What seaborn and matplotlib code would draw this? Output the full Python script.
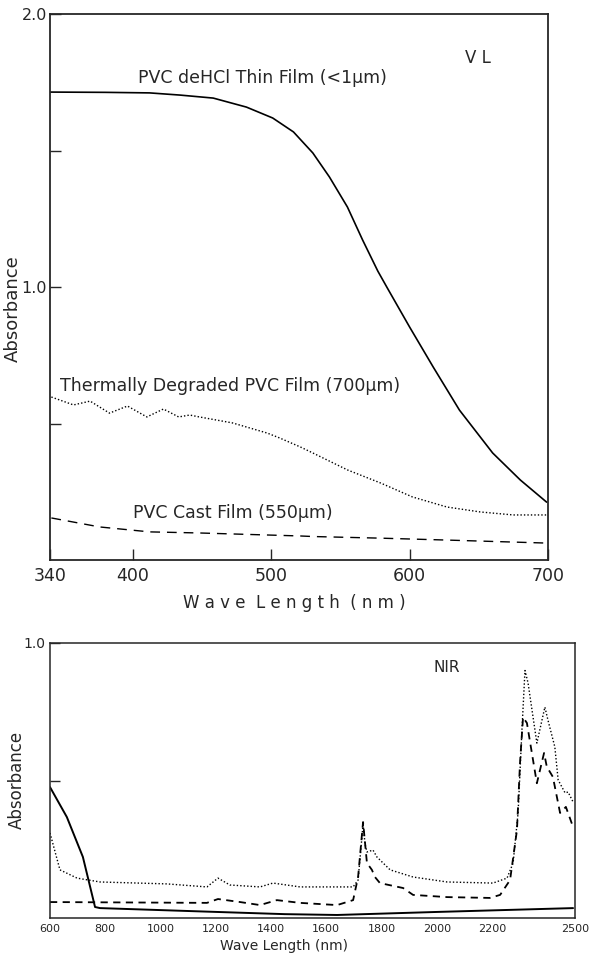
import matplotlib
matplotlib.use("Agg")
import matplotlib.pyplot as plt
import seaborn as sns

# ---------------- VL data ----------------
vl_thin_wl = [340, 380, 412, 434, 458, 482, 501, 516, 530, 542, 555, 566, 577, 584, 600, 617, 636, 660, 680, 699]
vl_thin_ab = [1.714, 1.713, 1.711, 1.703, 1.692, 1.659, 1.619, 1.568, 1.491, 1.403, 1.293, 1.172, 1.058,
              0.995, 0.853, 0.707, 0.549, 0.392, 0.293, 0.212]

vl_therm_wl = [341, 357, 369, 383, 396, 410, 422, 433, 441, 448, 472, 497, 506, 521, 530, 555, 579, 602, 627, 651, 675, 699]
vl_therm_ab = [0.597, 0.568, 0.582, 0.538, 0.564, 0.524, 0.553, 0.524, 0.531, 0.524, 0.502, 0.465, 0.447, 0.414, 0.392,
               0.330, 0.282, 0.231, 0.194, 0.176, 0.165, 0.165]

vl_cast_wl = [341, 376, 412, 448, 521, 530, 579, 627, 699]
vl_cast_ab = [0.154, 0.121, 0.103, 0.099, 0.088, 0.086, 0.080, 0.073, 0.062]

vl_xticks = [340, 400, 500, 600, 700]
vl_yticks = [0.5, 1.0, 1.5, 2.0]
vl_ylabels = ["", "1.0", "", "2.0"]

# ---------------- NIR data ----------------
nir_thin_wl = [600, 661, 719, 763, 781, 1143, 1450, 1639, 2000, 2493]
nir_thin_ab = [0.476, 0.367, 0.222, 0.040, 0.036, 0.024, 0.014, 0.011, 0.022, 0.036]

nir_therm_wl = [600, 636, 698, 781, 1023, 1168, 1208, 1251, 1360, 1407, 1505, 1697, 1715, 1729, 1733,
                1740, 1747, 1769, 1783, 1831, 1914, 2037, 2203, 2254, 2276, 2294, 2308, 2319, 2330,
                2362, 2391, 2402, 2427, 2439, 2464, 2475, 2493]
nir_therm_ab = [0.309, 0.175, 0.145, 0.131, 0.124, 0.113, 0.145, 0.120, 0.113, 0.127, 0.113, 0.113, 0.138, 0.295, 0.345,
                0.270, 0.240, 0.247, 0.222, 0.175, 0.149, 0.131, 0.127, 0.145, 0.200, 0.382, 0.684, 0.900, 0.855,
                0.636, 0.767, 0.720, 0.622, 0.502, 0.455, 0.458, 0.422]

nir_cast_wl = [600, 1168, 1208, 1288, 1360, 1421, 1505, 1639, 1697, 1715, 1733, 1747, 1765, 1776, 1794,
               1878, 1914, 2037, 2192, 2229, 2265, 2290, 2301, 2312, 2326, 2362, 2388, 2398, 2420, 2446, 2467, 2493]
nir_cast_ab = [0.058, 0.055, 0.069, 0.058, 0.047, 0.065, 0.055, 0.047, 0.065, 0.149, 0.349, 0.200, 0.175, 0.149, 0.127,
               0.109, 0.084, 0.076, 0.073, 0.084, 0.138, 0.320, 0.564, 0.730, 0.709, 0.490, 0.600, 0.550, 0.513, 0.382, 0.404, 0.331]

nir_xticks = [600, 800, 1000, 1200, 1400, 1600, 1800, 2000, 2200, 2500]
nir_yticks = [0.5, 1.0]
nir_ylabels = ["", "1.0"]

sns.set_style("ticks")
plt.rcParams['font.family'] = ['DejaVu Sans']

fig = plt.figure(figsize=(5.94, 9.55), dpi=100)
ax1 = fig.add_axes([50/594, (955-560)/955, 498/594, 546/955])
ax2 = fig.add_axes([50/594, (955-918)/955, 525/594, 275/955])

# ---- VL ----
sns.lineplot(x=vl_thin_wl, y=vl_thin_ab, ax=ax1, color="black", lw=1.2, linestyle="-", estimator=None, sort=False)
sns.lineplot(x=vl_therm_wl, y=vl_therm_ab, ax=ax1, color="black", lw=1.0, linestyle=(0, (1, 1.5)), estimator=None, sort=False)
sns.lineplot(x=vl_cast_wl, y=vl_cast_ab, ax=ax1, color="black", lw=1.0, linestyle=(0, (7, 5)), estimator=None, sort=False)
ax1.set_xlim(340, 700)
ax1.set_ylim(0, 2.0)
ax1.set_xticks(vl_xticks)
ax1.set_xticklabels([str(v) for v in vl_xticks], fontsize=12.5)
ax1.set_yticks(vl_yticks)
ax1.set_yticklabels(vl_ylabels, fontsize=11.5)
ax1.tick_params(axis="x", direction="in", length=8, width=1.0, pad=5)
ax1.tick_params(axis="y", direction="in", length=8, width=1.0, pad=2)
ax1.set_xlabel("W a v e  L e n g t h  ( n m )", fontsize=12)
ax1.xaxis.set_label_coords((294 - 50) / 498, -(594 - 560) / 546)
ax1.set_ylabel("Absorbance", fontsize=13)
ax1.yaxis.set_label_coords(-(50 - 22) / 498, (560 - 309) / 546)
for s in ax1.spines.values():
    s.set_linewidth(1.3)
    s.set_visible(True)
ax1.text(0.176, 0.883, "PVC deHCl Thin Film (<1μm)", fontsize=12.5, va="center", ha="left", transform=ax1.transAxes)
ax1.text(0.834, 0.919, "V L", fontsize=12, ha="left", va="center", transform=ax1.transAxes)
ax1.text(0.020, 0.319, "Thermally Degraded PVC Film (700μm)", fontsize=12.5, va="center", ha="left", transform=ax1.transAxes)
ax1.text(0.167, 0.086, "PVC Cast Film (550μm)", fontsize=12.5, va="center", ha="left", transform=ax1.transAxes)

# ---- NIR ----
sns.lineplot(x=nir_thin_wl, y=nir_thin_ab, ax=ax2, color="black", lw=1.4, linestyle="-", estimator=None, sort=False)
sns.lineplot(x=nir_therm_wl, y=nir_therm_ab, ax=ax2, color="black", lw=1.0, linestyle=(0, (1, 1.5)), estimator=None, sort=False)
sns.lineplot(x=nir_cast_wl, y=nir_cast_ab, ax=ax2, color="black", lw=1.3, linestyle=(0, (4, 3)), estimator=None, sort=False)
ax2.set_xlim(600, 2500)
ax2.set_ylim(0, 1.0)
ax2.set_xticks(nir_xticks)
ax2.set_xticklabels([str(v) for v in nir_xticks], fontsize=8)
ax2.set_yticks(nir_yticks)
ax2.set_yticklabels(nir_ylabels, fontsize=10)
ax2.tick_params(axis="y", direction="in", length=7, width=1.0, pad=3)
ax2.tick_params(axis="x", direction="in", length=0, pad=4)
ax2.set_xlabel("Wave Length (nm)", fontsize=10)
ax2.xaxis.set_label_coords((284 - 50) / 525, -(939 - 918) / 275)
ax2.set_ylabel("Absorbance", fontsize=12)
ax2.yaxis.set_label_coords(-(50 - 26) / 525, (918 - 780) / 275)
for s in ax2.spines.values():
    s.set_linewidth(1.1)
    s.set_visible(True)
ax2.text(0.73, 0.91, "NIR", fontsize=11, ha="left", va="center", transform=ax2.transAxes)

fig.savefig("out.png", dpi=100)
